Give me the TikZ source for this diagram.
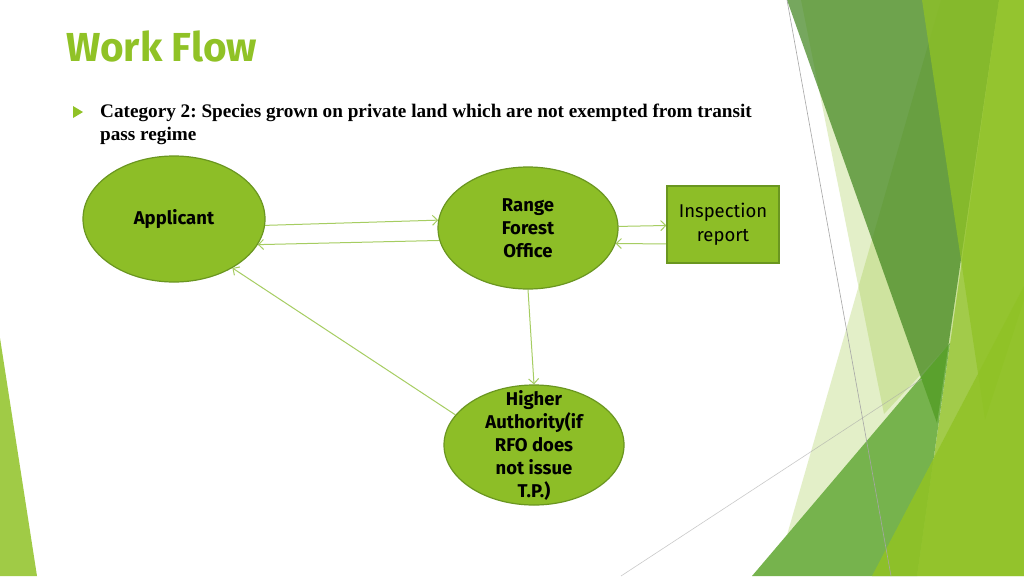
\documentclass[tikz,border=0pt]{standalone}
\usepackage{fontspec}
\setmainfont{Liberation Serif}
\newfontfamily\slidefont{Fira Sans}
\usepackage{tikz}
\usetikzlibrary{shapes,arrows.meta}
\frenchspacing
\definecolor{facet}{HTML}{90C226}
\definecolor{facetdark}{HTML}{3D831A}
\definecolor{facetmid}{HTML}{54A021}
\definecolor{nodegreen}{HTML}{8DBE27}
\definecolor{nodeedge}{HTML}{6A9620}
\definecolor{arrowgreen}{HTML}{A6CD62}
\definecolor{linegray}{HTML}{A6A6A6}
\tikzstyle{oval}=[ellipse,fill=nodegreen,draw=nodeedge,line width=1.2,inner sep=0pt,align=center,text=black,font=\slidefont\bfseries\fontsize{18.5}{23}\selectfont]
\tikzstyle{report}=[rectangle,fill=nodegreen,draw=nodeedge,line width=1.2,minimum width=112pt,minimum height=77pt,align=center,text=black,font=\slidefont\fontsize{18.5}{24}\selectfont]
\tikzstyle{flow}=[->,>={Straight Barb[length=5pt,width=10pt]},draw=arrowgreen,line width=1.0]
\tikzstyle{facetline}=[draw=linegray,line width=0.6]
\tikzstyle{bodytext}=[anchor=base west,inner sep=0pt,font=\bfseries\fontsize{19.2}{23}\selectfont]
\pgfdeclarelayer{decolayer}
\pgfdeclarelayer{edgelayer}
\pgfdeclarelayer{nodelayer}
\pgfsetlayers{decolayer,edgelayer,nodelayer,main}
\begin{document}
\begin{tikzpicture}[x=1pt,y=-1pt]
	\useasboundingbox (0,0) rectangle (1024,576);
	\begin{pgfonlayer}{decolayer}
		\fill [white] (0,0) rectangle (1024,576);
		% facet background
		\fill [facet,fill opacity=0.25] (801,0) -- (884,414) -- (950,343) -- (934,458) -- (1024,286) -- (1024,0) -- cycle;
		\fill [facet,fill opacity=0.25] (941,0) -- (787,535) -- (950,343) -- (934,458) -- (1024,286) -- (1024,0) -- cycle;
		\fill [facetdark,fill opacity=0.7] (787,0) -- (999,0) -- (937,423) -- cycle;
		\fill [facet,fill opacity=0.7] (999,0) -- (1024,0) -- (1024,576) -- (917,576) -- cycle;
		\fill [facet,fill opacity=0.75] (922,0) -- (1024,0) -- (1024,300) -- (985,420) -- cycle;
		\fill [facetmid,fill opacity=0.8] (752,576) -- (950,343) -- (917,576) -- cycle;
		\fill [facet,fill opacity=0.9] (1024,286) -- (872,576) -- (1024,576) -- cycle;
		\fill [facet,fill opacity=0.85] (0,338) -- (37,576) -- (0,576) -- cycle;
		\draw [style=facetline] (787,0) -- (891,576);
		\draw [style=facetline,draw opacity=0.6] (621,576) -- (922,379);
	\end{pgfonlayer}
	\begin{pgfonlayer}{nodelayer}
		\node [anchor=base west,inner sep=0pt,text=facet,font=\slidefont\bfseries\fontsize{40.5}{46}\selectfont] (title) at (66,61) {Work Flow};
		\fill [facet] (73,106) -- (83,112) -- (73,118) -- cycle;
		\node [style=bodytext] (cat) at (100,117) {Category 2: Species grown on private land which are not exempted from transit};
		\node [style=bodytext] (catb) at (100,140) {pass regime};

		\node [style=oval,minimum width=182pt,minimum height=126pt] (app) at (174,219) {Applicant};
		\node [style=oval,minimum width=180pt,minimum height=122pt] (rfo) at (528,228) {Range\\Forest\\Office};
		\node [style=report] (insp) at (723,224.5) {Inspection\\report};
		\node [style=oval,minimum width=180pt,minimum height=120pt,inner ysep=-17pt] (ha) at (534,445) {Higher\\Authority(if\\RFO does\\not issue\\T.P.)};
	\end{pgfonlayer}
	\begin{pgfonlayer}{edgelayer}
		\draw [style=flow] (app.-4) to (rfo.175);
		\draw [style=flow] (rfo.188) to (app.-17);
		\draw [style=flow] (rfo.1) to (insp.181);
		\draw [style=flow] (insp.199) to (rfo.-10);
		\draw [style=flow] (rfo.south) to (ha.north);
		\draw [style=flow] (ha.159) to (app.-40);
	\end{pgfonlayer}
\end{tikzpicture}
\end{document}
